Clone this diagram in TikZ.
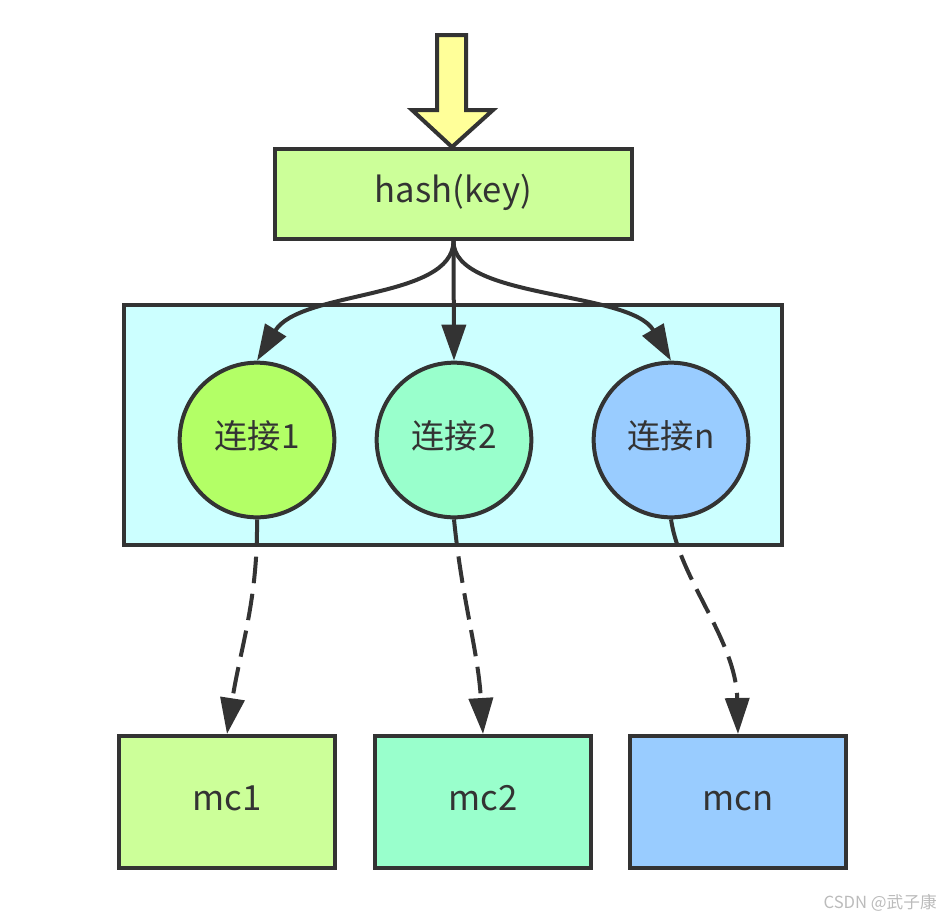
\documentclass[tikz,border=0pt]{standalone}
\usepackage{fontspec}
\setmainfont{Noto Sans CJK SC}
\usetikzlibrary{arrows.meta}
\definecolor{ink}{HTML}{333333}
\definecolor{hashfill}{HTML}{CCFF99}
\definecolor{poolfill}{HTML}{CCFFFF}
\definecolor{conA}{HTML}{B3FF66}
\definecolor{conB}{HTML}{99FFCC}
\definecolor{conC}{HTML}{99CCFF}
\definecolor{arrowfill}{HTML}{FFFF99}
\definecolor{wm}{HTML}{BBBBBB}
\tikzset{
  box/.style={draw=ink, line width=3pt, rectangle, inner sep=0pt, text=ink, font=\fontsize{26}{30}\selectfont, text height=1.3em, text depth=0em},
  conn/.style={circle, draw=ink, line width=3pt, inner sep=0pt, minimum size=116pt, text=ink, font=\fontsize{25}{30}\selectfont, text height=1.2em, text depth=0em},
  link/.style={draw=ink, line width=3pt, -{Triangle[length=27pt,width=18pt]}},
  dlink/.style={link, dash pattern=on 20pt off 8pt}
}
\begin{document}
\begin{tikzpicture}[x=0.75pt, y=-0.75pt]
\useasboundingbox (0,0) rectangle (940,918);
% pool
\node[draw=ink, line width=3pt, fill=poolfill, minimum width=493.5pt, minimum height=180pt, inner sep=0pt] (pool) at (453,425) {};
% hash
\node[box, fill=hashfill, minimum width=267.75pt, minimum height=67.5pt] (hash) at (453.5,194) {hash(key)};
% input arrow
\draw[draw=ink, line width=3pt, fill=arrowfill, line join=miter] (437,35) -- (466,35) -- (466,110) -- (493,110) -- (452,147) -- (412,110) -- (437,110) -- cycle;
% connections
\node[conn, fill=conA] (c1) at (257,440) {连接1};
\node[conn, fill=conB] (c2) at (454,440) {连接2};
\node[conn, fill=conC] (cn) at (671,440) {连接n};
% mc boxes
\node[box, fill=hashfill, minimum width=162pt, minimum height=99pt] (m1) at (227,802) {mc1};
\node[box, fill=conB, minimum width=162pt, minimum height=99pt] (m2) at (483,802) {mc2};
\node[box, fill=conC, minimum width=162pt, minimum height=99pt] (mn) at (738,802) {mcn};
% hash to connections
\draw[link] (hash.south) .. controls (453,300) and (300,290) .. (c1.north);
\draw[link] (hash.south) -- (c2.north);
\draw[link] (hash.south) .. controls (453,300) and (630,290) .. (cn.north);
% connections to mc
\draw[dlink] (c1.south) .. controls (258,600) and (240,650) .. (m1.north);
\draw[dlink] (c2.south) .. controls (462,600) and (478,650) .. (m2.north);
\draw[dlink] (cn.south) .. controls (680,580) and (736,640) .. (mn.north);
% watermark
\node[text=wm, font=\fontsize{12.5}{14}\selectfont, anchor=east, inner sep=0pt] (wmk) at (937,903) {CSDN @武子康};
\end{tikzpicture}
\end{document}
